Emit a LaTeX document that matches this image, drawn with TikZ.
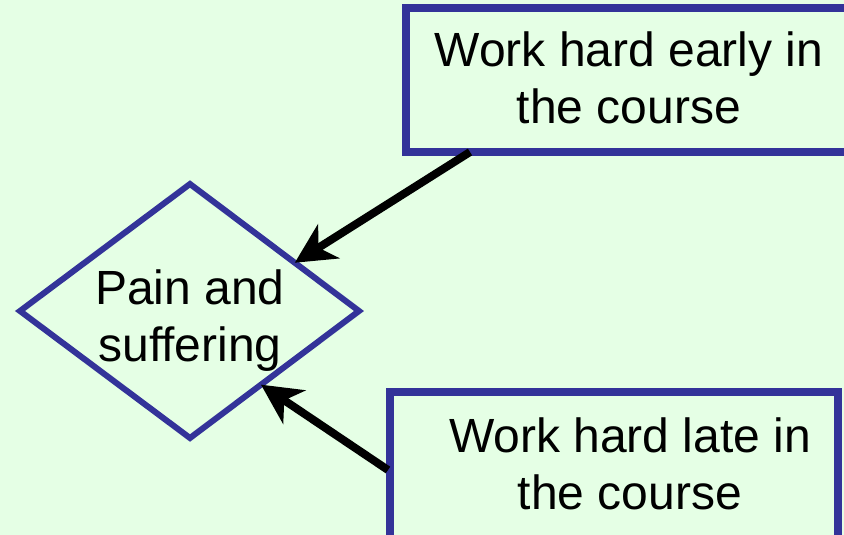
\documentclass[tikz,border=0pt]{standalone}
\usepackage{fontspec}
\setmainfont{Liberation Sans}
\usetikzlibrary{arrows.meta,calc}
\definecolor{paper}{HTML}{E5FFE5}
\definecolor{frame}{HTML}{333399}
\tikzset{
  boxframe/.style={draw=frame, line width=8pt},
  diamondframe/.style={draw=frame, line width=6pt, line join=miter},
  label/.style={align=center, inner sep=0pt, font=\fontsize{48}{57}\selectfont},
  pointer/.style={draw=black, line width=8pt,
    -{Stealth[length=40pt,width=40pt,inset=12pt]}}
}
\begin{document}
\begin{tikzpicture}[x=1pt,y=-1pt]
  % page
  \fill[paper] (0,0) rectangle (844,535);
  \useasboundingbox (0,0) rectangle (844,535);
  \clip (0,0) rectangle (844,535);

  % decision diamond
  \coordinate (dtop) at (190,184);
  \coordinate (dright) at (359,311);
  \coordinate (dbottom) at (190,438);
  \coordinate (dleft) at (20,311);
  \draw[diamondframe] (dtop) -- (dright) -- (dbottom) -- (dleft) -- cycle;
  \node[label] (pain) at (190,321) {Pain and\\suffering};

  % the two options
  \node[boxframe, minimum width=446pt, minimum height=144pt, inner sep=0pt]
    (early) at (629,80) {};
  \node[label] (earlytext) at (629,77.5) {Work hard early in\\the course};

  \node[boxframe, minimum width=448pt, minimum height=147pt, inner sep=0pt]
    (late) at (614,465) {};
  \node[label] (latetext) at (630,463.5) {Work hard late in\\the course};

  % connectors into the diamond
  \coordinate (earlyfoot) at ($(early.south west)+(68,-4)$);
  \coordinate (latefoot) at ($(late.west)+(2,5)$);
  \draw[pointer] (earlyfoot) -- ($(dtop)!0.62!(dright)$);
  \draw[pointer] (latefoot) -- ($(dbottom)!0.42!(dright)$);
\end{tikzpicture}
\end{document}
